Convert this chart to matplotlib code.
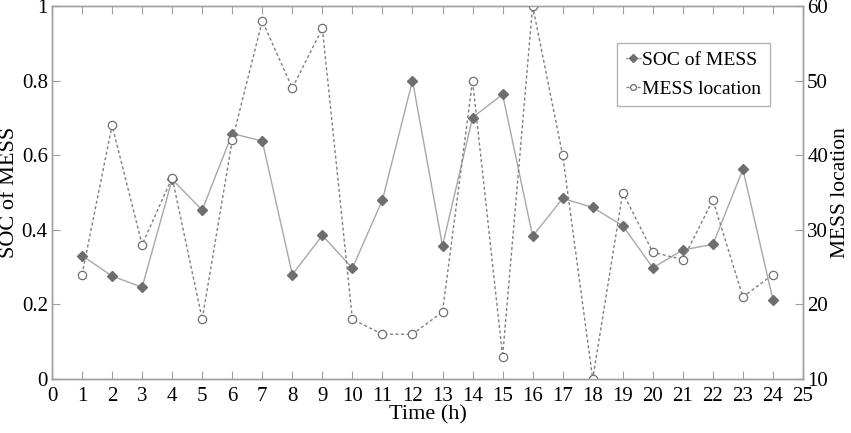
import matplotlib
matplotlib.use("Agg")
import matplotlib.pyplot as plt

hours = list(range(1, 25))
soc = [0.331, 0.276, 0.246, 0.535, 0.453, 0.658, 0.638, 0.280, 0.385, 0.297,
       0.480, 0.800, 0.357, 0.701, 0.763, 0.383, 0.484, 0.460, 0.411, 0.298,
       0.346, 0.361, 0.562, 0.212]
location = [24, 44, 28, 37, 18, 42, 58, 49, 57, 18, 16, 16, 19, 50, 13, 60,
            40, 10, 35, 27, 26, 34, 21, 24]
xticks = list(range(0, 26))
left_ticks = [0, 0.2, 0.4, 0.6, 0.8, 1]
left_labels = ["0", "0.2", "0.4", "0.6", "0.8", "1"]
right_ticks = [10, 20, 30, 40, 50, 60]

plt.rcParams['font.family'] = ['Liberation Serif', 'DejaVu Serif']

fig = plt.figure(figsize=(8.51, 4.33), dpi=100)
ax = fig.add_axes([52/851, 1 - 379/433, (803-52)/851, (379-6)/433])
ax2 = ax.twinx()

spine_c = '#a0a0a0'
l1, = ax.plot(hours, soc, color='#a8a8a8', lw=1.0, marker='D', markersize=5.5,
              markerfacecolor='#6e6e6e', markeredgecolor='#6e6e6e', label='SOC of MESS')
l2, = ax2.plot(hours, location, color='#808080', lw=1.0, ls=(0, (2.2, 1.8)), marker='o',
               markersize=6, markerfacecolor='white', markeredgecolor='#707070',
               markeredgewidth=0.9, label='MESS location')

ax.set_xlim(0, 25)
ax.set_ylim(0, 1)
ax2.set_ylim(10, 60)
ax.set_xticks(xticks)
ax.set_yticks(left_ticks)
ax.set_yticklabels(left_labels)
ax2.set_yticks(right_ticks)

for a in (ax, ax2):
    for s in a.spines.values():
        s.set_color(spine_c)
        s.set_linewidth(1.0)
ax.tick_params(axis='x', direction='in', top=True, length=6, color=spine_c,
               labelsize=15, pad=6)
ax.tick_params(axis='y', direction='in', length=6, color=spine_c, labelsize=15, pad=3)
ax2.tick_params(axis='y', direction='in', length=6, color=spine_c, labelsize=15, pad=3)

ax.set_xlabel('Time (h)', fontsize=16, labelpad=-1)
ax.set_ylabel('SOC of MESS', fontsize=16)
ax2.set_ylabel('MESS location', fontsize=15.5)
ax.yaxis.set_label_coords(-0.044, 0.5)
ax2.yaxis.set_label_coords(1.037, 0.5)

leg = ax.legend(handles=[l1, l2], loc='upper right', bbox_to_anchor=(0.956, 0.901),
                borderaxespad=0, fontsize=14, frameon=True, fancybox=False,
                handlelength=0.8, handletextpad=0.05, markerscale=0.7,
                borderpad=0.45, labelspacing=0.55)
leg.get_frame().set_edgecolor(spine_c)
leg.get_frame().set_linewidth(1.0)

fig.savefig('out.png', dpi=100)
